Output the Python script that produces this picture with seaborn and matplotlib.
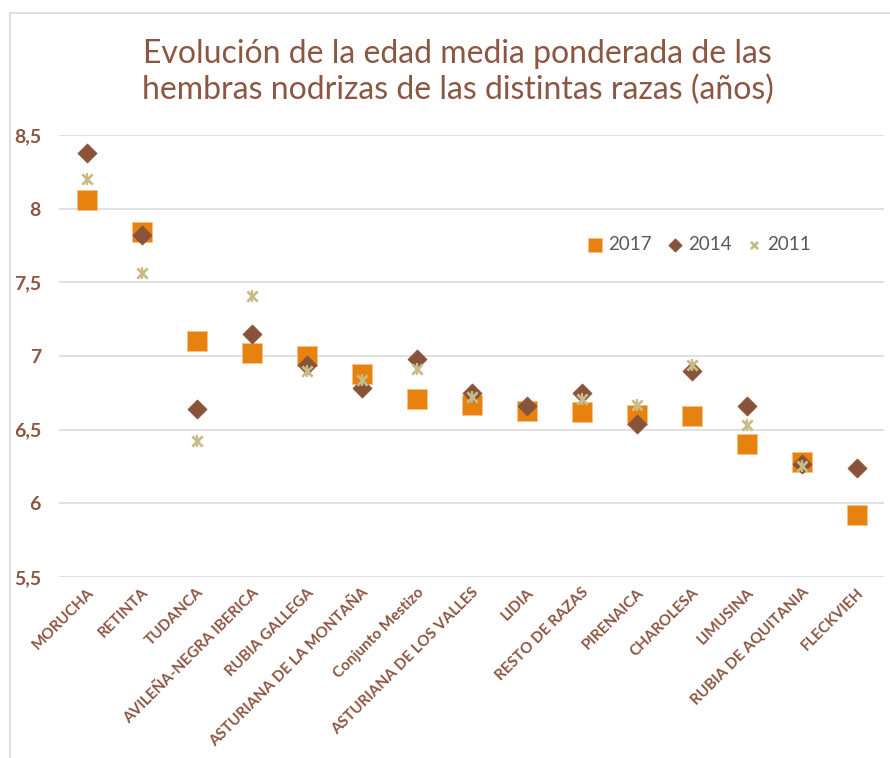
import numpy as np
import pandas as pd
import matplotlib
matplotlib.use("Agg")
import matplotlib.pyplot as plt
import seaborn as sns
from matplotlib.patches import Rectangle

razas = ["MORUCHA", "RETINTA", "TUDANCA", "AVILEÑA-NEGRA IBERICA", "RUBIA GALLEGA",
         "ASTURIANA DE LA MONTAÑA", "Conjunto Mestizo", "ASTURIANA DE LOS VALLES",
         "LIDIA", "RESTO DE RAZAS", "PIRENAICA", "CHAROLESA", "LIMUSINA",
         "RUBIA DE AQUITANIA", "FLECKVIEH"]
v2017 = [8.06, 7.84, 7.10, 7.02, 7.00, 6.88, 6.71, 6.67, 6.63, 6.62, 6.60, 6.59, 6.40, 6.28, 5.92]
v2014 = [8.38, 7.82, 6.64, 7.15, 6.94, 6.78, 6.98, 6.75, 6.66, 6.75, 6.54, 6.90, 6.66, 6.27, 6.24]
v2011 = [8.20, 7.56, 6.42, 7.41, 6.90, 6.84, 6.91, 6.72, np.nan, 6.71, 6.67, 6.94, 6.53, 6.25, np.nan]

brown = "#8B5642"
c2017 = "#E8820F"
c2014 = "#88533A"
c2011 = "#C8BC86"

sns.set_theme(style="white")
plt.rcParams["font.family"] = ["Lato", "DejaVu Sans"]

df = pd.DataFrame({"raza": razas, "2017": v2017, "2014": v2014, "2011": v2011})
df["pos"] = np.arange(len(razas))

fig = plt.figure(figsize=(8.9, 7.58), dpi=100)
ax = fig.add_axes([0.0663, 0.2388, 0.927, 0.5831])

sns.scatterplot(data=df, x="pos", y="2017", ax=ax, marker="s", s=190, color=c2017,
                edgecolor="#F6C08A", linewidth=0.6, label="2017", zorder=3)
sns.scatterplot(data=df, x="pos", y="2014", ax=ax, marker="D", s=95, color=c2014,
                edgecolor=c2014, linewidth=0.5, label="2014", zorder=4)
sns.scatterplot(data=df, x="pos", y="2011", ax=ax, marker="x", s=55, color=c2011,
                linewidth=2, label="2011", zorder=5)
ax.scatter(df["pos"], df["2011"], marker="|", s=65, color=c2011, linewidth=1.6, zorder=5)

ax.set_xlim(-0.5, len(razas) - 0.5)
ax.set_ylim(5.5, 8.5)
ax.set_yticks([5.5, 6, 6.5, 7, 7.5, 8, 8.5])
ax.set_yticklabels(["5,5", "6", "6,5", "7", "7,5", "8", "8,5"])
ax.set_xticks(df["pos"])
ax.set_xticklabels(razas, rotation=45, ha="right", rotation_mode="anchor")
ax.set_xlabel("")
ax.set_ylabel("")
ax.grid(axis="y", color="#D9D9D9", linewidth=1.1)
ax.set_axisbelow(True)
for s in ax.spines.values():
    s.set_visible(False)
ax.tick_params(axis="y", length=0, pad=13, labelsize=14, labelcolor=brown)
ax.tick_params(axis="x", length=0, pad=6, labelsize=11, labelcolor=brown)
for t in ax.get_yticklabels() + ax.get_xticklabels():
    t.set_fontweight("bold")

ax.legend(loc="center", bbox_to_anchor=(0.776, 0.753), ncol=3, frameon=False,
          fontsize=13.5, labelcolor="#595959", handlelength=0.8, handletextpad=0.3,
          columnspacing=0.8, borderaxespad=0, markerscale=0.7)

fig.text(0.514, 0.905, "Evolución de la edad media ponderada de las\nhembras nodrizas de las distintas razas (años)",
         ha="center", va="center", fontsize=23, color=brown, linespacing=1.2)

fig.patches.append(Rectangle((10 / 890, -0.1), 1.2, 1.1 - 13 / 758, transform=fig.transFigure,
                             fill=False, edgecolor="#D9D9D9", linewidth=1.2))

fig.savefig("out.png", dpi=100)
